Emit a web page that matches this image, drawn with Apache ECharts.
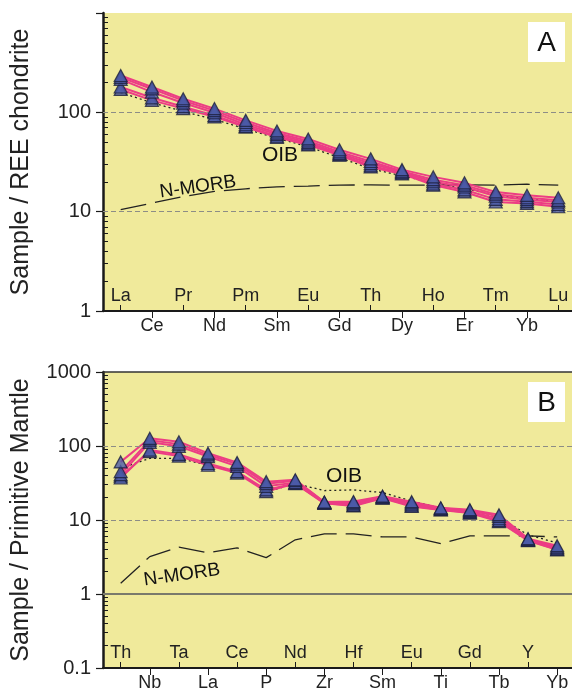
<!DOCTYPE html>
<html>
<head>
<meta charset="utf-8">
<script src="https://cdn.jsdelivr.net/npm/echarts@6/dist/echarts.min.js"></script>
<style>
  html, body { margin: 0; padding: 0; background: #fff; }
  #chart { width: 572px; height: 692px; }
</style>
</head>
<body>
<div id="chart"></div>
<script>
// panel A - REE, chondrite normalised
const reeNames = ['La', 'Ce', 'Pr', 'Nd', 'Pm', 'Sm', 'Eu', 'Gd', 'Th', 'Dy', 'Ho', 'Er', 'Tm', 'Yb', 'Lu'];
const reeS1 = [235, 180, 137, 109, 83, 65, 54, 42, 34, 26.5, 22.4, 19.5, 15.8, 14.6, 13.8];
const reeS2 = [225, 172, 131, 104, 79, 62, 51.5, 40, 32, 25.5, 21, 18.5, 15, 13.8, 13];
const reeS3 = [215, 160, 124, 99, 75, 60, 49.5, 38.5, 30.5, 25, 20, 17.7, 14.3, 13.2, 12.5];
const reeS4 = [180, 140, 114, 93, 72, 57.5, 48, 37.5, 29, 24.5, 19, 16.6, 13.3, 12.6, 11.8];
const reeS5 = [170, 132, 109, 90, 71, 56, 47, 37, 28.2, 24, 18.5, 15.8, 12.5, 12.1, 11.2];
const reeOib = [158, 125, 102, 85, 68, 55, 45, 35, 27, 23, 19.5, 17, 14.8, 13.5, 12.5];
const reeMorb = [10.5, 12.2, 14.2, 16, 17, 17.8, 18.1, 18.5, 18.6, 18.5, 18.5, 18.6, 18.5, 18.9, 18.5];
const yTicksA = [1, 10, 100];

// panel B - spider, primitive mantle normalised
const spNames = ['Th', 'Nb', 'Ta', 'La', 'Ce', 'P', 'Nd', 'Zr', 'Hf', 'Sm', 'Eu', 'Ti', 'Gd', 'Tb', 'Y', 'Yb'];
const spS1 = [61, 127, 114, 80, 60, 33, 35, 17.5, 17.8, 21, 17.7, 14.6, 13.8, 11.8, 5.6, 4.5];
const spS2 = [45, 120, 106, 76, 57, 31, 34, 17.3, 17.2, 20.7, 17, 14.4, 13.4, 11.2, 5.5, 4.3];
const spS3 = [41, 112, 99, 72, 53, 28.5, 32, 17.1, 16.5, 20.3, 16.3, 14.1, 13, 10.4, 5.4, 4.15];
const spS4 = [37, 88, 77, 58, 45, 25.5, 31.5, 16.9, 15.8, 19.9, 15.6, 13.8, 12.6, 9.8, 5.3, 4.0];
const spS5 = [39, 84, 73, 55, 43, 24.2, 31, 16.8, 15.5, 19.7, 15.2, 13.7, 12.4, 9.5, 5.25, 3.95];
const spOib = [50, 68, 68, 55, 45, 24, 31, 25, 25.5, 23.5, 18, 14.5, 13, 10.8, 6.3, 4.9];
const spMorb = [1.4, 3.2, 4.3, 3.6, 4.2, 3.1, 5.4, 6.5, 6.5, 5.9, 5.9, 4.8, 6.1, 6.1, 6.1, 5.9];
const yTicksB = [0.1, 1, 10, 100, 1000];

const FONT = 'Liberation Sans, Arial, sans-serif';
const INK = '#1a1a1a';
const PINK = '#ec3d84';

function pairs(arr) { return arr.map((v, i) => [i, v]); }

function minors(lo, hi) {
  const out = [];
  for (let d = lo; d < hi; d *= 10) {
    for (let k = 2; k <= 9; k++) out.push(+(d * k).toPrecision(3));
  }
  return out;
}

function xAxes(gi, names, min, max) {
  const evens = names.map((n, i) => i).filter(i => i % 2 === 0);
  const odds = names.map((n, i) => i).filter(i => i % 2 === 1);
  const fmt = v => names[Math.round(v)] || '';
  return [
    {
      gridIndex: gi, type: 'value', min: min, max: max, position: 'bottom',
      axisLine: { show: true, onZero: false, lineStyle: { color: INK, width: 2 } },
      axisTick: { show: true, inside: true, length: 6, customValues: evens, lineStyle: { color: INK } },
      axisLabel: { inside: true, margin: 6, customValues: evens, formatter: fmt,
        color: '#222', fontSize: 18, fontFamily: FONT },
      splitLine: { show: false }
    },
    {
      gridIndex: gi, type: 'value', min: min, max: max, position: 'bottom',
      axisLine: { show: false, onZero: false },
      axisTick: { show: true, inside: false, length: 7, customValues: odds, lineStyle: { color: INK } },
      axisLabel: { margin: 6, customValues: odds, formatter: fmt,
        color: '#222', fontSize: 18, fontFamily: FONT },
      splitLine: { show: false }
    }
  ];
}

function yAxes(gi, lo, hi, labels, title) {
  return [
    {
      gridIndex: gi, type: 'log', logBase: 10, min: lo, max: hi, position: 'left',
      axisLine: { show: true, onZero: false, lineStyle: { color: INK, width: 2.5 } },
      axisTick: { show: true, length: 7, customValues: yTicksB.filter(v => v >= lo && v <= hi), lineStyle: { color: INK, width: 1.2 } },
      axisLabel: { margin: 12, customValues: labels, formatter: v => String(v),
        color: '#222', fontSize: 20, fontFamily: FONT },
      splitLine: { show: false },
      name: title, nameLocation: 'middle', nameGap: 69, nameRotate: 90,
      nameTextStyle: { fontSize: 25, color: '#222', fontFamily: FONT }
    },
    {
      gridIndex: gi, type: 'log', logBase: 10, min: lo, max: hi, position: 'left',
      axisLine: { show: false, onZero: false },
      axisTick: { show: true, inside: true, length: 5, customValues: minors(lo, hi), lineStyle: { color: INK } },
      axisLabel: { show: false },
      splitLine: { show: false }
    }
  ];
}

function sample(data, xi, yi) {
  return [
    { type: 'line', xAxisIndex: xi, yAxisIndex: yi, data: pairs(data), showSymbol: false,
      lineStyle: { color: PINK, width: 2 }, z: 3, silent: true },
    { type: 'scatter', xAxisIndex: xi, yAxisIndex: yi, data: pairs(data), symbol: 'triangle',
      symbolSize: [13, 12], itemStyle: { color: '#4b5aa8', borderColor: '#1c1f3d', borderWidth: 1.2 },
      z: 5, silent: true }
  ];
}

function refLine(data, xi, yi, dash, marks) {
  const s = { type: 'line', xAxisIndex: xi, yAxisIndex: yi, data: pairs(data), showSymbol: false,
    lineStyle: { color: '#222', width: 1.3, type: dash }, z: 2, silent: true };
  if (marks) {
    s.markLine = { silent: true, symbol: 'none', label: { show: false },
      lineStyle: { type: [5, 3], color: '#8d8d86', width: 1 }, data: marks };
  }
  return s;
}

const series = [];
series.push(refLine(reeOib, 0, 0, [2, 3], [{ yAxis: 10 }, { yAxis: 100 }]));
series.push(refLine(reeMorb, 0, 0, [26, 9]));
[reeS5, reeS4, reeS3, reeS2, reeS1].forEach(d => series.push(...sample(d, 0, 0)));
series.push(refLine(spOib, 2, 2, [2, 3], [
  { yAxis: 10 }, { yAxis: 100 },
  { yAxis: 1, lineStyle: { type: 'solid', color: '#7a7a6c', width: 2 } },
  { yAxis: 1000, lineStyle: { type: 'solid', color: '#333', width: 1.5 } }
]));
series.push(refLine(spMorb, 2, 2, [26, 9]));
[spS5, spS4, spS3, spS2, spS1].forEach(d => series.push(...sample(d, 2, 2)));

function panelTag(txt, top) {
  return { type: 'group', left: 528, top: top, children: [
    { type: 'rect', shape: { x: 0, y: 0, width: 37, height: 40 }, style: { fill: '#fff' } },
    { type: 'text', x: 18.5, y: 21, style: { text: txt, font: '28px ' + FONT, fill: '#111',
      textAlign: 'center', textVerticalAlign: 'middle' } }
  ] };
}

function note(txt, x, y, size, rot) {
  return { type: 'text', x: x, y: y, rotation: rot || 0,
    style: { text: txt, font: size + 'px ' + FONT, fill: '#111', textAlign: 'center', textVerticalAlign: 'middle' } };
}

const chart = echarts.init(document.getElementById('chart'));
chart.setOption({
  animation: false,
  backgroundColor: '#fff',
  grid: [
    { left: 103, top: 13, right: 0, height: 298, show: true, backgroundColor: '#f0ea9b', borderWidth: 0,
      outerBoundsMode: 'none', containLabel: false },
    { left: 103, top: 372, right: 0, height: 296, show: true, backgroundColor: '#f0ea9b', borderWidth: 0,
      outerBoundsMode: 'none', containLabel: false }
  ],
  xAxis: [
    ...xAxes(0, reeNames, -0.566, 14.44),
    ...xAxes(1, spNames, -0.608, 15.51)
  ],
  yAxis: [
    ...yAxes(0, 1, 1000, yTicksA, 'Sample / REE chondrite'),
    ...yAxes(1, 0.1, 1000, yTicksB, 'Sample / Primitive Mantle')
  ],
  series: series,
  graphic: [
    panelTag('A', 22),
    panelTag('B', 382),
    note('OIB', 280, 155, 21),
    note('N-MORB', 198, 187, 19, 0.14),
    note('OIB', 344, 476, 21),
    note('N-MORB', 182, 575, 19, 0.14)
  ]
});
</script>
</body>
</html>
